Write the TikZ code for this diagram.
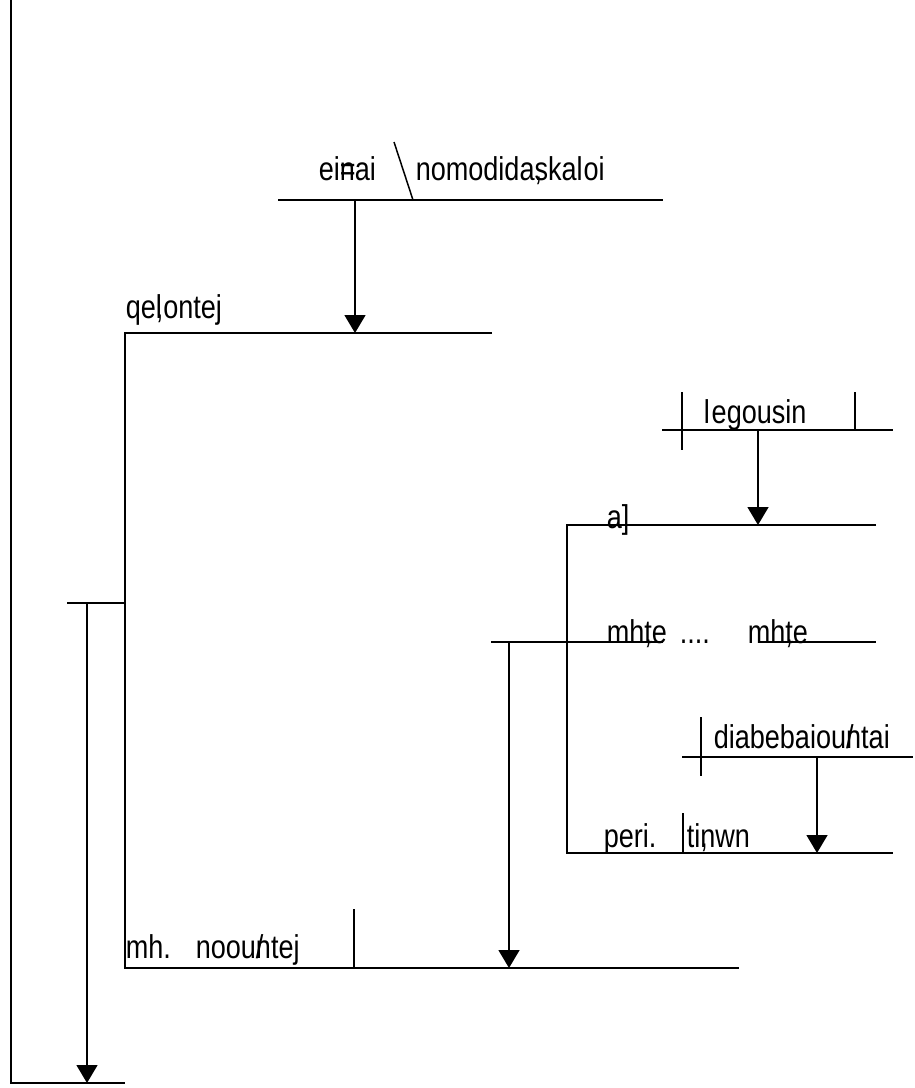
\documentclass[tikz,border=0pt]{standalone}
\usepackage{fontspec}
\setmainfont[FakeStretch=0.82]{Liberation Sans}
\usetikzlibrary{arrows.meta}

\begin{document}
\begin{tikzpicture}[
  x=1pt, y=-1pt,
  line width=1.5pt,
  word/.style={anchor=base west, inner sep=0pt, font=\fontsize{33}{38}\selectfont},
  feed/.style={-{Triangle[width=21pt,length=18pt]}}
]
  \useasboundingbox (0,0) rectangle (914,1088);

  % base line and subject
  \coordinate (subjtop) at (87,603);
  \coordinate (subjend) at (87,1083);
  \draw (11,0) -- (11,1083) -- (125,1083);
  \draw (67,603) -- (125,603);
  \draw[feed] (subjtop) -- (subjend);

  % participle fork
  \draw (492,333) -- (125,333) -- (125,968) -- (739,968);
  \node[word] (qelontej) at (125,318) {qe\rlap{,}l\kern1.5pt ontej};
  \node[word] (mh) at (125,958) {mh.};
  \node[word] (noountej) at (195,958) {noou\rlap{/}ntej};
  \draw (354,909) -- (354,968);

  % infinitive with predicate
  \coordinate (inftop) at (355,200);
  \coordinate (infend) at (355,333);
  \draw (278,200) -- (663,200);
  \draw (394,142) -- (413,200);
  \node[word] (einai) at (318,180) {ei\rlap{=}nai};
  \node[word] (nomo) at (415,180) {nomodida\rlap{,}skal\kern1pt oi};
  \draw[feed] (inftop) -- (infend);

  % object clause
  \coordinate (objtop) at (509,642);
  \coordinate (objend) at (509,968);
  \draw (491,642) -- (663,642);
  \draw (758,642) -- (876,642);
  \draw (876,525) -- (567,525) -- (567,853) -- (893,853);
  \draw[feed] (objtop) -- (objend);
  \node[word] (a) at (606,528) {a]};
  \node[word] (mhte1) at (606,643) {mh\rlap{,}te};
  \node[word] (dots) at (679,643) {....};
  \node[word] (mhte2) at (747,643) {mh\rlap{,}te};

  % legousin
  \coordinate (legtop) at (758,430);
  \coordinate (legend) at (758,525);
  \draw (662,430) -- (893,430);
  \draw (682,392) -- (682,450);
  \draw (855,392) -- (855,430);
  \node[word] (legousin) at (703,423) {l\kern2pt egousin};
  \draw[feed] (legtop) -- (legend);

  % diabebaiountai
  \coordinate (diatop) at (817,757);
  \coordinate (diaend) at (817,853);
  \draw (682,757) -- (913,757);
  \draw (701,717) -- (701,776);
  \node[word] (diab) at (713,748) {diabebaiou\rlap{/}ntai};
  \draw[feed] (diatop) -- (diaend);
  \node[word] (peri) at (603,847) {peri.};
  \draw (683,813) -- (683,853);
  \node[word] (tinwn) at (686,847) {ti\rlap{,}nwn};
\end{tikzpicture}
\end{document}
